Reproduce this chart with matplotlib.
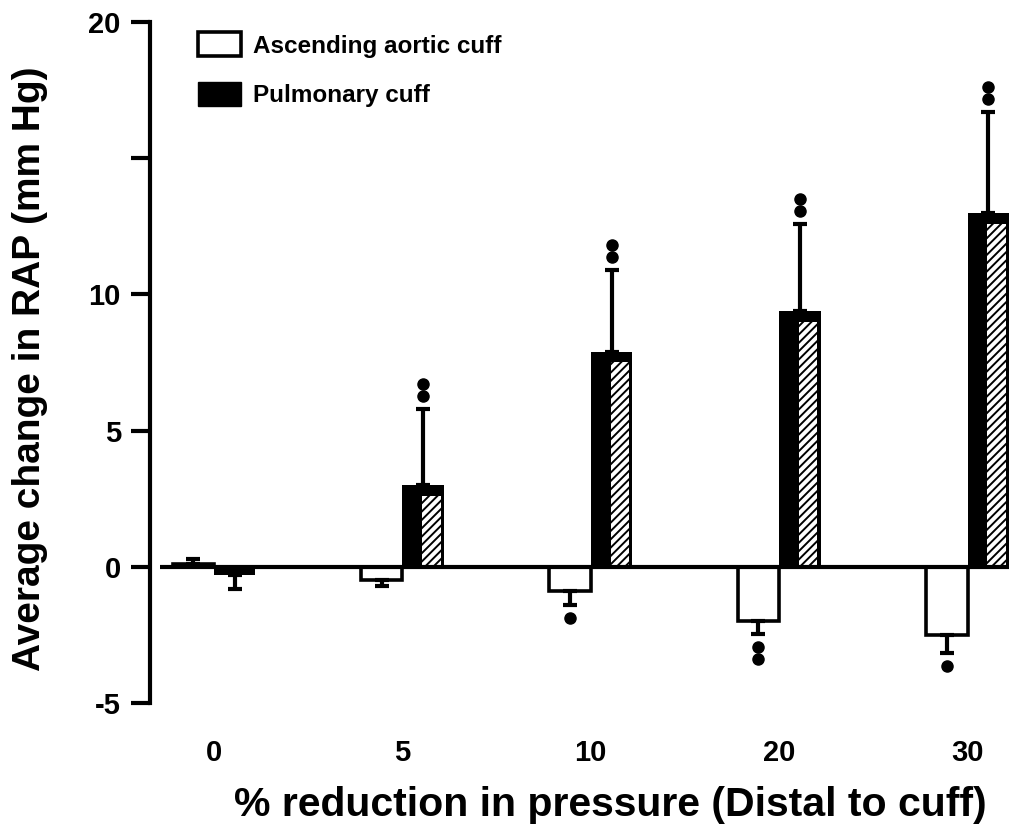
import matplotlib
matplotlib.use("Agg")
import matplotlib.pyplot as plt
from matplotlib.patches import Patch
from matplotlib.transforms import offset_copy
import numpy as np

# Percent reduction in pressure distal to the cuff
categories = ["0", "5", "10", "20", "30"]

# Average change in right atrial pressure (mm Hg) and one-sided SE
aortic = [0.1, -0.5, -0.9, -2.0, -2.5]
aortic_err = [0.2, 0.2, 0.5, 0.45, 0.65]
pulmonary = [-0.3, 3.0, 7.9, 9.4, 13.0]
pulmonary_err = [0.5, 2.8, 3.0, 3.2, 3.7]

# Number of significance marks beyond each error bar
aortic_sig = [0, 0, 1, 2, 1]
pulmonary_sig = [0, 2, 2, 2, 2]

yticks = [-5, 0, 5, 10, 15, 20]
ytick_labels = ["-5", "0", "5", "10", "", "20"]

series_labels = ["Ascending aortic cuff", "Pulmonary cuff"]

plt.rcParams["font.family"] = ["Liberation Sans", "DejaVu Sans"]
plt.rcParams["font.weight"] = "bold"
plt.rcParams["hatch.linewidth"] = 1.4

W, H = 1009, 835
fig = plt.figure(figsize=(W / 100, H / 100), dpi=100)
ax = fig.add_axes([150 / W, 132 / H, (W - 150) / W, 681 / H])

x = np.arange(len(categories))
w = 0.22
ax.set_xlim(x[0] - 0.34, x[-1] + 0.22)
ax.set_ylim(-5, 20)


def one_sided(vals, errs):
    lower = [e if v < 0 else 0 for v, e in zip(vals, errs)]
    upper = [e if v >= 0 else 0 for v, e in zip(vals, errs)]
    return [lower, upper]


# Ascending aortic cuff: open bars
ax.bar(x - w / 2, aortic, w, facecolor="white", edgecolor="black",
       linewidth=2.6, zorder=2)

# Pulmonary cuff: solid bars with a lighter textured stripe
ax.bar(x + w / 2, pulmonary, w, color="black", linewidth=0, zorder=2)
stripe = [max(v - 0.4, 0) for v in pulmonary]
ax.bar(x + w / 2 + w * 0.2, stripe, w * 0.44, facecolor="white",
       edgecolor="black", hatch="////", linewidth=0, zorder=2.5)

# Error bars
ax.errorbar(x - w / 2, aortic, yerr=one_sided(aortic, aortic_err), fmt="none",
            ecolor="black", elinewidth=3, capsize=5, capthick=3, zorder=3)
ax.errorbar(x + w / 2, pulmonary, yerr=one_sided(pulmonary, pulmonary_err),
            fmt="none", ecolor="black", elinewidth=3, capsize=5, capthick=3,
            zorder=3)


def sig_marks(xs, vals, errs, counts):
    for xi, v, e, n in zip(xs, vals, errs, counts):
        sign = 1 if v >= 0 else -1
        end = v + sign * e
        for k in range(n):
            tr = offset_copy(ax.transData, fig=fig, x=0,
                             y=sign * (13 + 12 * k), units="dots")
            ax.plot(xi, end, "o", ms=8, color="black", transform=tr,
                    clip_on=False, zorder=4)


sig_marks(x - w / 2, aortic, aortic_err, aortic_sig)
sig_marks(x + w / 2, pulmonary, pulmonary_err, pulmonary_sig)

# Zero line across the groups
ax.hlines(0, x[0] - w * 1.3, ax.get_xlim()[1], colors="black", linewidth=3,
          zorder=3.5)

# Axes styling
for side in ("top", "right", "bottom"):
    ax.spines[side].set_visible(False)
ax.spines["left"].set_linewidth(3)
ax.set_yticks(yticks)
ax.set_yticklabels(ytick_labels)
ax.tick_params(axis="y", direction="out", length=14, width=3, pad=7,
               labelsize=21)
ax.set_xticks(x)
ax.set_xticklabels(categories)
ax.tick_params(axis="x", length=0, pad=26, labelsize=21)
for t in ax.get_xticklabels() + ax.get_yticklabels():
    t.set_fontweight("bold")

fig.text(30 / W, 1 - 369 / H, "Average change in RAP (mm Hg)", rotation=90,
         ha="center", va="center", fontsize=28, fontweight="bold")
fig.text(610 / W, 1 - 805 / H, "% reduction in pressure (Distal to cuff)",
         ha="center", va="center", fontsize=29.5, fontweight="bold")

handles = [Patch(facecolor="white", edgecolor="black", linewidth=2.6),
           Patch(facecolor="black", edgecolor="black")]
ax.legend(handles, series_labels, loc="upper left",
          bbox_to_anchor=(0.056, 0.985), frameon=False, borderpad=0,
          borderaxespad=0, handlelength=1.75, handleheight=1.15,
          handletextpad=0.5, labelspacing=1.0,
          prop={"family": "Liberation Sans", "weight": "bold", "size": 17.5})

fig.savefig("out.png", dpi=100)
